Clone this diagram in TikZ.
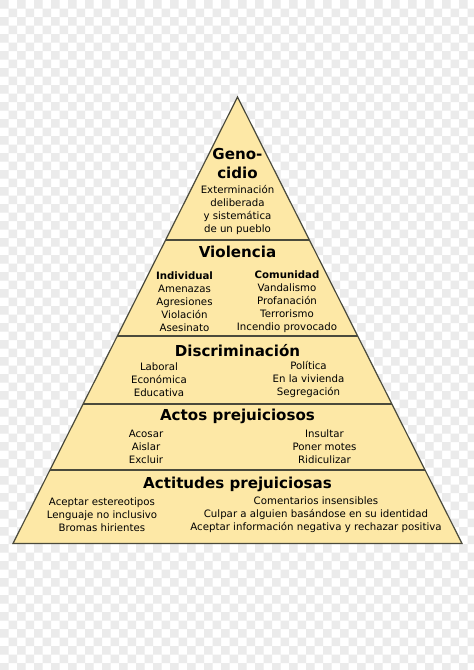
\documentclass[tikz,border=0pt]{standalone}
\usepackage{fontspec}
\setmainfont{DejaVu Sans}
\usetikzlibrary{calc}
\definecolor{pyrfill}{HTML}{FDE8A6}
\definecolor{pyrline}{HTML}{4A4A3C}
\definecolor{checker}{HTML}{EBEBEB}
\tikzset{
  titletext/.style={font=\bfseries\fontsize{15.1}{19.3}\selectfont, align=center, inner sep=0pt, text=black},
  bodytext/.style={font=\fontsize{10.2}{13}\selectfont, align=center, inner sep=0pt, text=black},
  layerline/.style={draw=pyrline, line width=1.2pt},
}
\begin{document}
\begin{tikzpicture}[x=1pt,y=-1pt]
\useasboundingbox (0,0) rectangle (474,670);
\fill[white] (0,0) rectangle (474,670);
\fill[checker] \foreach \i [evaluate=\i as \off using {mod(\i,2)}] in {0,...,55} {
  \foreach \j in {0,2,...,78} { ({\i*8.5},{(\j+\off)*8.5}) rectangle +(8.5,8.5) } };
% pyramid
\coordinate (apex) at (237.5,97);
\coordinate (bl) at (13,543.5);
\coordinate (br) at (462,543.5);
\draw[layerline, fill=pyrfill, line join=miter] (apex) -- (bl) -- (br) -- cycle;
\foreach \t [count=\k] in {0.3203,0.5353,0.6876,0.8354} {
  \coordinate (l\k) at ($(apex)!\t!(bl)$);
  \coordinate (r\k) at ($(apex)!\t!(br)$);
}
\foreach \k in {1,...,4} { \draw[layerline] (l\k) -- (r\k); }
% level 1
\node[titletext] (geno) at (237.5,163.5) {Geno-\\cidio};
\node[bodytext] (genotxt) at (237.5,210) {Exterminación\\deliberada\\y sistemática\\de un pueblo};
% level 2
\node[titletext] (viol) at (237.5,251.5) {Violencia};
\node[bodytext] (indiv) at (184.5,301.3) {\textbf{Individual}\\Amenazas\\Agresiones\\Violación\\Asesinato};
\node[bodytext] (comun) at (287,301.3) {\textbf{Comunidad}\\Vandalismo\\Profanación\\Terrorismo\\Incendio provocado};
% level 3
\node[titletext] (disc) at (237.5,350.3) {Discriminación};
\node[bodytext] (discl) at (159,379.6) {Laboral\\Económica\\Educativa};
\node[bodytext] (discr) at (308.5,379.6) {Política\\En la vivienda\\Segregación};
% level 4
\node[titletext] (actos) at (237.5,416.3) {Actos prejuiciosos};
\node[bodytext] (actosl) at (146,446.8) {Acosar\\Aislar\\Excluir};
\node[bodytext] (actosr) at (324.5,446.8) {Insultar\\Poner motes\\Ridiculizar};
% level 5
\node[titletext] (actit) at (237.5,484.3) {Actitudes prejuiciosas};
\node[bodytext] (actitl) at (102,514.6) {Aceptar estereotipos\\Lenguaje no inclusivo\\Bromas hirientes};
\node[bodytext] (actitr) at (316,514.6) {Comentarios insensibles\\Culpar a alguien basándose en su identidad\\Aceptar información negativa y rechazar positiva};
\end{tikzpicture}
\end{document}
